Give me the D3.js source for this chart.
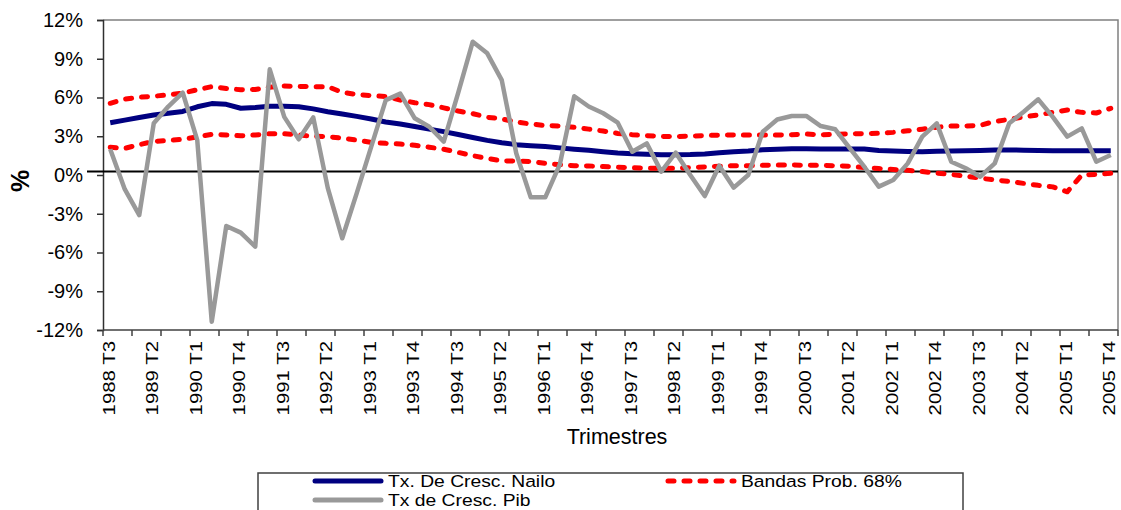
<!DOCTYPE html>
<html>
<head>
<meta charset="utf-8">
<script src="https://cdn.jsdelivr.net/npm/d3@7"></script>
<style>
  body { margin: 0; background: #fff; }
  svg { display: block; font-family: "Liberation Sans", Arial, sans-serif; }
</style>
</head>
<body>
<svg id="chart" width="1121" height="510"></svg>
<script>
// Quarterly categories, 1988 T3 .. 2005 T4
const quarters = [
  "1988 T3","1988 T4",
  "1989 T1","1989 T2","1989 T3","1989 T4",
  "1990 T1","1990 T2","1990 T3","1990 T4",
  "1991 T1","1991 T2","1991 T3","1991 T4",
  "1992 T1","1992 T2","1992 T3","1992 T4",
  "1993 T1","1993 T2","1993 T3","1993 T4",
  "1994 T1","1994 T2","1994 T3","1994 T4",
  "1995 T1","1995 T2","1995 T3","1995 T4",
  "1996 T1","1996 T2","1996 T3","1996 T4",
  "1997 T1","1997 T2","1997 T3","1997 T4",
  "1998 T1","1998 T2","1998 T3","1998 T4",
  "1999 T1","1999 T2","1999 T3","1999 T4",
  "2000 T1","2000 T2","2000 T3","2000 T4",
  "2001 T1","2001 T2","2001 T3","2001 T4",
  "2002 T1","2002 T2","2002 T3","2002 T4",
  "2003 T1","2003 T2","2003 T3","2003 T4",
  "2004 T1","2004 T2","2004 T3","2004 T4",
  "2005 T1","2005 T2","2005 T3","2005 T4"
];

// Growth rate of the Nailo indicator (%)
const nailo = [
  4.05,4.25,4.45,4.64,4.78,4.92,5.28,5.53,5.47,5.17,
  5.23,5.33,5.32,5.29,5.12,4.90,4.73,4.54,4.34,4.10,
  3.95,3.76,3.55,3.36,3.14,2.90,2.68,2.50,2.35,2.27,
  2.20,2.10,2.00,1.91,1.80,1.70,1.65,1.60,1.56,1.57,
  1.58,1.62,1.72,1.80,1.85,1.95,2.00,2.04,2.03,2.01,
  2.01,2.01,2.01,1.90,1.86,1.82,1.80,1.83,1.86,1.88,
  1.90,1.93,1.94,1.92,1.89,1.88,1.88,1.88,1.88,1.88
];

// GDP growth rate (%)
const pib = [
  2.00,-1.10,-3.10,4.00,5.30,6.37,2.70,-11.36,-3.95,-4.46,
  -5.55,8.18,4.50,2.76,4.46,-1.00,-4.90,-1.40,2.20,5.80,
  6.30,4.39,3.74,2.58,6.37,10.32,9.42,7.35,1.68,-1.73,
  -1.73,0.80,6.10,5.30,4.78,4.05,1.80,2.45,0.26,1.73,
  0.00,-1.63,0.72,-0.98,0.00,3.35,4.30,4.57,4.57,3.79,
  3.54,2.09,0.64,-0.90,-0.39,0.90,2.97,4.00,1.03,0.52,
  -0.13,0.90,4.00,4.90,5.86,4.50,2.97,3.61,1.03,1.55
];

// 68% probability bands (%)
const bandUpper = [
  5.55,5.88,6.02,6.10,6.20,6.34,6.60,6.84,6.70,6.60,
  6.62,6.80,6.89,6.85,6.84,6.84,6.40,6.23,6.15,6.08,
  5.80,5.60,5.45,5.20,4.95,4.75,4.47,4.35,4.10,3.95,
  3.82,3.80,3.70,3.55,3.40,3.22,3.12,3.05,2.99,2.98,
  3.01,3.05,3.09,3.10,3.10,3.10,3.10,3.12,3.17,3.11,
  3.15,3.18,3.20,3.23,3.30,3.42,3.55,3.70,3.79,3.79,
  3.85,4.15,4.30,4.50,4.65,4.85,5.03,4.85,4.80,5.16
];
const bandLower = [
  2.15,2.06,2.35,2.60,2.68,2.76,2.95,3.14,3.10,3.03,
  3.10,3.20,3.20,3.10,3.00,2.97,2.85,2.70,2.52,2.45,
  2.40,2.30,2.15,2.00,1.75,1.50,1.28,1.10,1.08,1.05,
  0.90,0.80,0.72,0.70,0.65,0.60,0.56,0.53,0.52,0.52,
  0.57,0.63,0.68,0.72,0.72,0.75,0.77,0.77,0.76,0.74,
  0.72,0.68,0.58,0.50,0.43,0.36,0.27,0.15,0.03,-0.08,
  -0.25,-0.38,-0.50,-0.65,-0.80,-0.92,-1.30,0.00,0.05,0.13
];

const yTicks = [-12,-9,-6,-3,0,3,6,9,12];
const seriesNames = ["Tx. De Cresc. Nailo", "Bandas Prob. 68%", "Tx de Cresc. Pib"];

const colors = { nailo: "#000080", band: "#FF0000", pib: "#999999" };

const svg = d3.select("#chart");
const plot = { left: 103, right: 1118, top: 20, bottom: 330 };

const x = d3.scaleBand().domain(quarters).range([plot.left, plot.right]).padding(0);
const y = d3.scaleLinear().domain([-12, 12]).range([plot.bottom, plot.top]);
const cx = q => x(q) + x.bandwidth() / 2;

// plot frame (top and right edges)
svg.append("path")
  .attr("d", `M${plot.left},${plot.top}H${plot.right}V${plot.bottom}`)
  .attr("fill", "none").attr("stroke", "#808080").attr("stroke-width", 1.5);

// y axis
const yAxis = svg.append("g")
  .attr("transform", `translate(${plot.left},0)`)
  .call(d3.axisLeft(y).tickValues(yTicks).tickFormat(d => d + "%").tickSize(6).tickPadding(14));
yAxis.select(".domain").attr("stroke", "#303030").attr("stroke-width", 1.5);
yAxis.selectAll(".tick line").attr("stroke", "#303030").attr("stroke-width", 1.5);
yAxis.selectAll(".tick text")
  .attr("font-size", 20).attr("fill", "#000")
  .attr("font-family", "'Liberation Sans', Arial, sans-serif");

// x axis: tick marks every two quarters, labels every three quarters
const xAxisG = svg.append("g").attr("transform", `translate(0,${plot.bottom})`);
xAxisG.append("line")
  .attr("x1", plot.left).attr("x2", plot.right)
  .attr("stroke", "#404040").attr("stroke-width", 1.5);
const tickPos = quarters.filter((q, i) => i % 2 === 0).map(q => x(q)).concat([plot.right]);
xAxisG.selectAll("line.tk").data(tickPos).enter().append("line")
  .attr("class", "tk")
  .attr("x1", d => d).attr("x2", d => d)
  .attr("y1", 0).attr("y2", 6)
  .attr("stroke", "#404040").attr("stroke-width", 1.5);
const labelQuarters = quarters.filter((q, i) => i % 3 === 0);
xAxisG.selectAll("text.lbl").data(labelQuarters).enter().append("text")
  .attr("class", "lbl")
  .attr("transform", d => `translate(${cx(d) - 1.5},11) rotate(-90) scale(1.2,1)`)
  .attr("text-anchor", "end")
  .attr("dominant-baseline", "central")
  .attr("font-size", 17)
  .attr("fill", "#000")
  .text(d => d);

// axis titles
svg.append("text")
  .attr("x", 617).attr("y", 444)
  .attr("text-anchor", "middle")
  .attr("font-size", 21.5)
  .text("Trimestres");
svg.append("text")
  .attr("transform", "translate(20,181) rotate(-90)")
  .attr("text-anchor", "middle")
  .attr("dominant-baseline", "central")
  .attr("font-size", 25).attr("font-weight", "bold")
  .text("%");

// zero reference line
svg.append("line")
  .attr("x1", 87).attr("x2", plot.right)
  .attr("y1", y(0) - 3.5).attr("y2", y(0) - 3.5)
  .attr("stroke", "#000").attr("stroke-width", 2);

const line = d3.line().x((d, i) => cx(quarters[i])).y(d => y(d));

function drawSeries(values, color, width, dash) {
  const p = svg.append("path")
    .datum(values)
    .attr("fill", "none")
    .attr("stroke", color)
    .attr("stroke-width", width)
    .attr("stroke-linejoin", "round")
    .attr("d", line);
  if (dash) p.attr("stroke-dasharray", dash).attr("stroke-linecap", "round");
  else p.attr("stroke-linecap", "butt");
  return p;
}

drawSeries(nailo, colors.nailo, 5, null);
drawSeries(bandUpper, colors.band, 5, "6,10");
drawSeries(bandLower, colors.band, 5, "6,10");
drawSeries(pib, colors.pib, 4.5, null);

// legend
const lg = svg.append("g");
lg.append("rect")
  .attr("x", 258).attr("y", 473).attr("width", 705).attr("height", 60)
  .attr("fill", "#fff").attr("stroke", "#404040").attr("stroke-width", 1.5);
const legendItems = [
  { name: seriesNames[0], color: colors.nailo, dash: null, x: 312, y: 481 },
  { name: seriesNames[1], color: colors.band, dash: "6,10", x: 665, y: 481 },
  { name: seriesNames[2], color: colors.pib, dash: null, x: 312, y: 500 }
];
legendItems.forEach(it => {
  const l = lg.append("line")
    .attr("x1", it.x + 3).attr("x2", it.x + 69)
    .attr("y1", it.y).attr("y2", it.y)
    .attr("stroke", it.color).attr("stroke-width", 5)
    .attr("stroke-linecap", "round");
  if (it.dash) l.attr("stroke-dasharray", it.dash);
  lg.append("text")
    .attr("transform", `translate(${it.x + 76},${it.y}) scale(1.17,1)`)
    .attr("dominant-baseline", "central")
    .attr("font-size", 16.5)
    .text(it.name);
});
</script>
</body>
</html>
